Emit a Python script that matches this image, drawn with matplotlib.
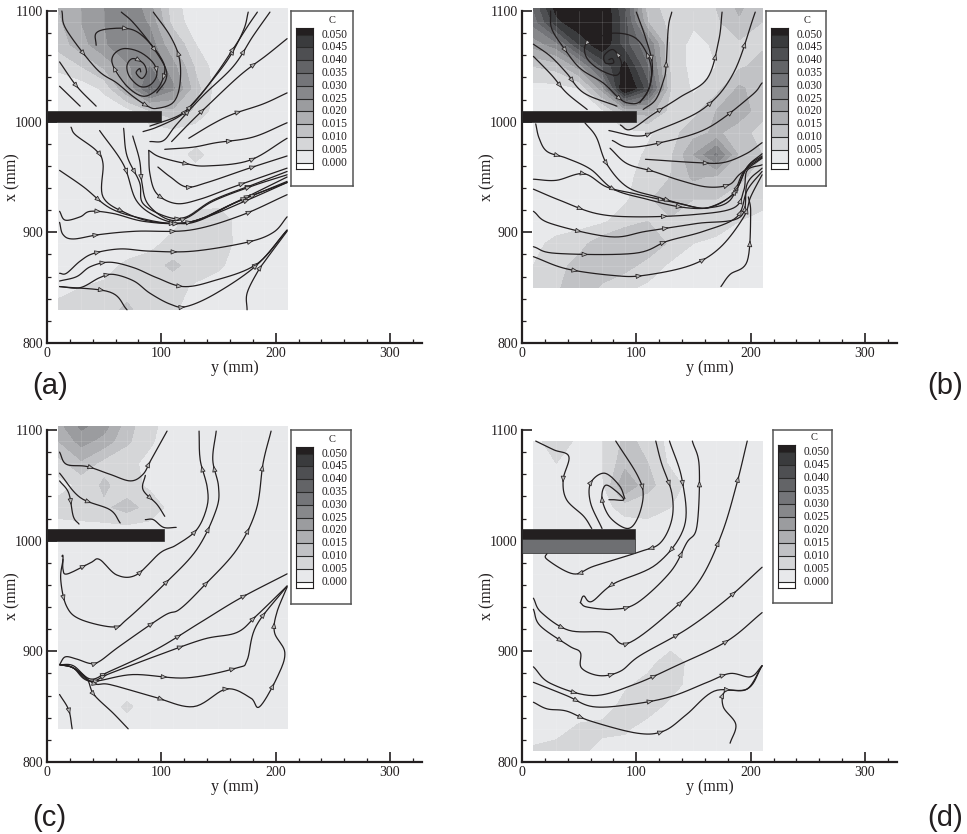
import numpy as np
import matplotlib
matplotlib.use("Agg")
import matplotlib.pyplot as plt
from matplotlib.patches import Rectangle

W, H = 967, 834
plt.rcParams['font.family'] = ['Liberation Serif', 'DejaVu Serif']

# ---------- data ----------
y_cols = [10, 30, 50, 70, 90, 110, 130, 150, 170, 190, 210]
levels = [0, .005, .01, .015, .02, .025, .03, .035, .04, .045, .05]
level_labels = ['0.000', '0.005', '0.010', '0.015', '0.020', '0.025', '0.030', '0.035', '0.040', '0.045', '0.050']
band_colors = ['#e8e9eb', '#d5d6d8', '#c1c2c5', '#aeafb2', '#9b9c9f', '#87888b',
               '#747579', '#636467', '#4e4f52', '#3a3b3d', '#231f20']

x_rows_a = [1102, 1090, 1070, 1050, 1030, 1010, 990, 970, 950, 930, 910, 890, 870, 850, 830]
conc_a = [
    [15, 20, 25, 30, 22, 7, 2, 2, 2, 2, 2],
    [14, 20, 25, 30, 24, 8, 2, 2, 2, 2, 2],
    [12, 18, 24, 30, 28, 15, 5, 2, 2, 2, 2],
    [6, 10, 16, 24, 30, 22, 9, 2, 2, 2, 2],
    [2, 2, 6, 20, 36, 26, 12, 2, 2, 2, 2],
    [2, 2, 2, 3, 10, 14, 9, 2, 2, 2, 2],
    [2, 2, 2, 2, 2, 3, 2, 2, 2, 2, 2],
    [2, 2, 2, 2, 2, 2, 6.5, 2, 2, 2, 2],
    [2, 2, 2, 2, 2, 2, 2, 2, 2, 2, 2],
    [2, 2, 2, 2, 2, 2, 2, 2, 2, 2, 2],
    [2, 2, 2, 2, 2, 3, 8, 9, 2, 2, 2],
    [2, 2, 2, 2, 3, 7, 8, 8, 3, 2, 2],
    [2, 2, 3, 6, 8, 11, 8, 6, 2, 2, 2],
    [4, 5, 6, 8, 10, 7, 4, 2, 2, 2, 2],
    [6, 6, 8, 11, 7, 6, 2, 2, 2, 2, 2],
]
x_rows_b = [1102, 1090, 1070, 1050, 1030, 1010, 990, 970, 950, 930, 910, 890, 870, 850]
conc_b = [
    [35, 52, 56, 56, 40, 12, 8, 7, 10, 16, 10],
    [32, 48, 55, 56, 42, 15, 8, 6, 9, 14, 10],
    [22, 28, 45, 55, 42, 30, 9, 3, 6, 9, 9],
    [10, 12, 22, 40, 52, 35, 9, 3, 5, 9, 12],
    [3, 3, 5, 22, 58, 42, 10, 4, 8, 16, 12],
    [3, 3, 3, 4, 16, 18, 8, 8, 15, 18, 12],
    [2, 2, 2, 3, 3, 4, 8, 13, 16, 12, 8],
    [2, 2, 2, 2, 2, 6, 9, 20, 31, 14, 10],
    [2, 2, 2, 2, 3, 8, 10, 16, 14, 11, 8],
    [2, 2, 2, 2, 4, 9, 14, 10, 10, 8, 6],
    [3, 3, 3, 4, 8, 10, 9, 8, 7, 5, 4],
    [4, 6, 8, 13, 15, 14, 9, 5, 4, 3, 3],
    [5, 8, 12, 14, 12, 8, 4, 3, 3, 3, 3],
    [8, 9, 14, 9, 6, 4, 3, 3, 3, 3, 3],
]
x_rows_c = [1103, 1090, 1070, 1050, 1030, 1010, 990, 970, 950, 930, 910, 890, 870, 850, 830]
conc_c = [
    [18, 26, 22, 12, 6, 3, 2, 2, 2, 2, 2],
    [15, 22, 18, 11, 5.5, 3, 2, 2, 2, 2, 2],
    [8, 14, 8, 6, 4, 2, 2, 2, 2, 2, 2],
    [3, 6, 11, 7, 4, 2, 2, 2, 2, 2, 2],
    [7, 8, 9, 12, 8, 3, 2, 2, 2, 2, 2],
    [3, 3, 3, 3, 3, 2, 2, 2, 2, 2, 2],
    [2, 2, 2, 2, 2, 2, 2, 2, 2, 2, 2],
    [2, 2, 2, 2, 2, 2, 2, 2, 2, 2, 2],
    [2, 2, 2, 2, 2, 2, 2, 2, 2, 2, 2],
    [2, 2, 2, 2, 2, 2, 2, 2, 2, 2, 2],
    [2, 2, 2, 2, 2, 2, 2, 2, 2, 2, 2],
    [2, 2, 2, 2, 2, 2, 2, 2, 2, 2, 2],
    [2, 2, 2, 2, 2, 2, 2, 2, 2, 2, 2],
    [2, 2, 2, 6, 2, 2, 2, 2, 2, 2, 2],
    [2, 2, 2, 2, 2, 2, 2, 2, 2, 2, 2],
]
x_rows_d = [1090, 1070, 1050, 1030, 1010, 990, 970, 950, 930, 910, 890, 870, 850, 830, 810]
conc_d = [
    [2, 10, 3, 5, 11, 9, 3, 2, 2, 2, 2],
    [2, 5, 2, 5, 13, 10, 4, 2, 2, 2, 2],
    [2, 2, 2, 4, 20, 11, 8, 2, 2, 2, 2],
    [2, 2, 2, 3, 7, 8, 5, 2, 2, 2, 2],
    [2, 2, 2, 2, 2, 2, 2, 2, 2, 2, 2],
    [2, 2, 2, 2, 2, 2, 2, 2, 2, 2, 2],
    [2, 2, 2, 2, 2, 2, 2, 2, 2, 2, 2],
    [2, 2, 2, 2, 2, 2, 2, 2, 2, 2, 2],
    [2, 2, 2, 2, 2, 2, 2, 2, 2, 2, 2],
    [2, 2, 2, 2, 2, 2, 2, 2, 2, 2, 2],
    [2, 2, 2, 2, 2, 3, 8, 3, 2, 2, 2],
    [2, 2, 2, 2, 4, 7, 8, 2, 2, 2, 2],
    [2, 2, 2, 2, 7, 8, 3, 2, 2, 2, 2],
    [2, 3, 6, 7, 6, 2, 2, 2, 2, 2, 2],
    [6, 7, 7, 2, 2, 2, 2, 2, 2, 2, 2],
]

streams_a = [
    [(13,1100),(17,1083),(43,1048),(61,1035),(75,1023),(88,1014),(96,1012),(110,1017),(116,1032),(116,1056),(108,1077),(93,1099)],
    [(43,1069),(43,1080),(55,1084),(75,1083),(90,1071),(102,1053),(102,1041),(96,1029),(84,1023),(70,1032),(58,1050),(58,1060),(67,1066),(81,1063),(93,1053),(96,1042),(90,1033),(81,1032),(72,1041),(70,1051),(75,1057),(84,1053),(87,1045),(83,1039),(78,1044),(81,1048),(82,1045)],
    [(65,1099),(75,1090),(90,1071),(103,1050),(104,1038),(96,1026)],
    [(11,1054),(26,1032),(43,1014)],
    [(11,1032),(29,1014)],
    [(84,991),(96,995),(116,1005),(128,1017),(145,1038),(160,1059),(172,1083),(176,1099)],
    [(90,996),(116,1006),(131,1020),(148,1043),(163,1066),(176,1087),(184,1099)],
    [(90,982),(102,983),(113,997),(136,1023),(163,1050),(180,1077),(195,1099)],
    [(109,982),(125,999),(140,1014),(169,1042),(192,1060),(210,1075)],
    [(124,985),(145,998),(163,1007),(189,1016),(210,1026)],
    [(103,975),(128,977),(148,981),(180,986),(210,999)],
    [(89,974),(99,968),(122,962),(140,960),(177,965),(210,985)],
    [(97,959),(108,950),(122,941),(140,945),(177,958),(210,969)],
    [(89,974),(90,953),(96,935),(113,926),(134,930),(163,941),(210,958)],
    [(67,994),(70,969),(81,945),(84,926),(105,914),(122,914),(145,929),(180,943),(210,955)],
    [(75,987),(81,965),(83,945),(88,926),(105,912),(122,913),(145,928),(180,942),(210,952)],
    [(46,992),(67,961),(78,929),(96,914),(116,908),(134,911),(163,926),(210,950)],
    [(21,995),(25,988),(43,974),(49,962),(49,932),(70,917),(96,909),(128,910),(163,926),(210,946)],
    [(11,956),(32,941),(55,922),(81,913),(110,908),(134,912),(169,929),(210,945)],
    [(11,919),(16,911),(29,914),(38,919),(58,917),(84,910),(116,908),(140,914),(175,929),(210,945)],
    [(11,909),(14,898),(23,894),(46,898),(78,901),(125,902),(169,915),(210,934)],
    [(11,863),(17,863),(29,874),(41,881),(64,885),(90,883),(128,883),(175,891),(198,900),(210,914)],
    [(11,856),(26,860),(38,869),(55,873),(76,868),(96,859),(119,851),(145,856),(183,871),(210,902)],
    [(11,851),(29,850),(46,859),(58,862),(76,856),(90,845),(108,835),(122,833),(148,845),(183,870),(210,902)],
    [(11,851),(55,846),(70,830)],
    [(175,830),(175,845),(184,864),(192,876),(210,901)],
]
streams_b = [
    [(25,1100),(26,1084),(37,1066),(51,1048),(71,1035),(83,1023),(92,1017),(103,1018),(112,1033),(112,1054),(100,1075),(80,1080),(62,1074),(55,1068),(57,1057),(68,1047),(83,1042),(87,1053),(80,1065),(72,1060),(73,1053),(80,1053),(79,1057),(76,1056)],
    [(100,1099),(108,1076),(114,1052),(111,1030),(103,1017)],
    [(10,1070),(25,1059),(39,1044),(54,1026),(83,1014)],
    [(10,1059),(26,1042),(39,1026),(57,1011)],
    [(106,1011),(117,1020),(124,1038),(126,1050),(128,1085),(131,1099)],
    [(86,997),(95,993),(115,1007),(138,1022),(162,1039),(172,1073),(175,1099)],
    [(76,992),(101,987),(118,992),(159,1012),(185,1044),(204,1099)],
    [(79,983),(93,977),(121,981),(162,994),(200,1023),(210,1035)],
    [(108,966),(153,963),(176,963),(196,971),(210,981)],
    [(77,976),(92,962),(115,955),(138,947),(162,941),(181,943),(191,953),(210,967)],
    [(12,998),(15,985),(22,973),(39,967),(60,957),(80,939),(109,930),(138,923),(162,922),(182,929),(194,955),(210,968)],
    [(55,999),(65,986),(74,962),(92,941),(118,932),(150,923),(165,923),(185,935),(197,959),(210,971)],
    [(10,948),(30,947),(54,953),(74,941),(98,935),(138,926),(162,922),(185,935),(197,959),(210,969)],
    [(10,939),(33,929),(65,917),(100,914),(150,916),(185,922),(194,938),(197,956),(210,961)],
    [(10,919),(25,908),(77,896),(109,901),(153,908),(191,914),(197,944),(210,958)],
    [(10,887),(30,881),(98,881),(127,892),(159,901),(188,914),(197,938),(210,955)],
    [(10,878),(39,867),(80,861),(106,861),(147,870),(173,886),(194,914),(200,932),(210,952)],
    [(174,851),(182,862),(197,874),(200,917),(198,932)],
]
streams_c = [
    [(11,1080),(17,1069),(35,1067),(55,1060),(73,1054),(84,1060),(91,1073),(105,1099)],
    [(11,1061),(29,1039),(55,1028),(64,1016)],
    [(11,1054),(19,1043),(23,1022),(28,1015)],
    [(86,1059),(84,1046),(96,1033),(103,1022)],
    [(86,1019),(93,1019),(102,1012),(113,1012)],
    [(13,986),(14,986),(14,974),(18,970),(38,980),(46,983),(61,969),(78,969),(99,989),(113,996),(131,1010),(140,1031),(140,1049),(134,1073),(133,1099)],
    [(14,983),(12,965),(17,941),(29,929),(58,922),(70,929),(102,960),(131,992),(148,1028),(150,1049),(145,1073),(148,1099)],
    [(11,888),(16,895),(26,893),(38,889),(46,891),(64,905),(102,932),(116,938),(137,959),(166,992),(183,1028),(189,1070),(196,1099)],
    [(11,888),(23,887),(38,875),(55,882),(96,902),(134,926),(169,948),(210,970)],
    [(11,888),(23,885),(38,873),(55,880),(96,896),(137,911),(166,917),(183,932),(210,959)],
    [(11,888),(23,885),(38,873),(75,879),(122,876),(166,885),(175,892),(183,923),(210,959)],
    [(11,888),(23,885),(41,871),(55,870),(93,859),(128,850),(157,866),(178,858),(186,850),(202,878),(208,899),(199,917),(201,935),(210,958)],
    [(11,888),(23,885),(35,875),(41,861),(58,844),(71,830)],
    [(11,861),(19,847),(22,830)],
]
streams_d = [
    [(12,1090),(28,1082),(41,1076),(36,1055),(39,1037),(54,1022),(61,1011)],
    [(82,1090),(101,1059),(106,1041),(101,1020),(92,1011),(77,1021),(70,1038),(73,1050),(82,1045),(89,1037),(80,1037),(76,1037)],
    [(70,1011),(60,1034),(60,1052),(72,1061),(85,1050),(90,1038)],
    [(117,1090),(122,1070),(131,1043),(131,1019),(121,998),(103,990),(63,977),(45,970),(22,983),(22,989)],
    [(129,1090),(140,1055),(142,1013),(118,979),(80,961),(61,945),(54,950),(51,944)],
    [(51,944),(57,940),(80,938),(101,944),(130,972),(144,998),(153,1013),(155,1067),(149,1090)],
    [(10,948),(17,935),(41,919),(74,917),(92,907),(130,936),(156,965),(175,1007),(188,1052),(197,1090)],
    [(10,938),(16,923),(41,905),(51,899),(52,885),(68,878),(86,882),(103,896),(144,920),(179,947),(210,976)],
    [(10,886),(25,871),(62,860),(98,870),(135,887),(179,909),(210,935)],
    [(10,872),(39,860),(62,850),(95,852),(130,859),(162,872),(182,880),(200,877),(210,887)],
    [(10,854),(22,848),(39,846),(60,837),(101,826),(124,828),(144,843),(168,864),(197,866),(210,887)],
    [(182,817),(187,834),(176,850),(178,864),(197,866),(210,887)],
]
plates_a = [(0, 100, 999.5, 1010, '#231f20')]
plates_b = [(0, 100, 999.5, 1010, '#231f20')]
plates_c = [(0, 102, 999.5, 1010.5, '#231f20')]
plates_d = [(0, 99, 1001.5, 1010.5, '#231f20'), (0, 99, 989, 1001.5, '#6e6f72')]

panel_letters = ['(a)', '(b)', '(c)', '(d)']
x_ticks = [0, 100, 200, 300]
x_tick_labels = ['0', '100', '200', '300']
v_ticks = [800, 900, 1000, 1100]
v_tick_labels = ['800', '900', '1000', '1100']

# ---------- layout in pixels of the reference ----------
INK = '#231f20'


def smooth(points, n=10):
    p = np.array(points, float)
    q = np.vstack([2 * p[0] - p[1], p, 2 * p[-1] - p[-2]])
    out = []
    for i in range(1, len(q) - 2):
        for t in np.linspace(0, 1, n, endpoint=False):
            out.append(0.5 * ((2 * q[i]) + (-q[i - 1] + q[i + 1]) * t
                              + (2 * q[i - 1] - 5 * q[i] + 4 * q[i + 1] - q[i + 2]) * t ** 2
                              + (-q[i - 1] + 3 * q[i] - 3 * q[i + 1] + q[i + 2]) * t ** 3))
    out.append(p[-1])
    return np.array(out)


def draw_stream(ax, points):
    c = smooth(points)
    ax.plot(c[:, 0], c[:, 1], color=INK, lw=0.9, zorder=4, solid_capstyle='round', clip_on=False)
    seg = np.hypot(*np.diff(c, axis=0).T)
    s = np.concatenate([[0], np.cumsum(seg)])
    if s[-1] < 30:
        return
    count = max(1, int(s[-1] / 60))
    for k in range(count):
        target = s[-1] * (k + 0.6) / (count + 0.2)
        i = min(np.searchsorted(s, target), len(c) - 2)
        d = c[i + 1] - c[i]
        d = d / (np.hypot(*d) + 1e-9)
        ax.annotate('', xy=c[i] + d * 2.5, xytext=c[i] - d * 0.5,
                    arrowprops=dict(arrowstyle='-|>,head_length=0.55,head_width=0.22', mutation_scale=7,
                                    fc='#b5b5b5', ec=INK, lw=0.55, shrinkA=0, shrinkB=0), zorder=5)


def axes_px(fig, l, t, r, b):
    return fig.add_axes([l / W, 1 - b / H, (r - l) / W, (b - t) / H])


def panel(fig, left, top, rows, conc, streams, plates, legend_box, swatch_px):
    bottom = top + 332
    ax = axes_px(fig, left, top, left + 375, bottom)
    ax.set_xlim(0, 328)
    ax.set_ylim(800, 1100)
    for s in ('top', 'right'):
        ax.spines[s].set_visible(False)
    for s in ('left', 'bottom'):
        ax.spines[s].set_linewidth(1.6)
        ax.spines[s].set_color(INK)
    Z = np.array(conc) / 1000.0
    cs = ax.contourf(y_cols, rows, Z, levels=levels + [1], colors=band_colors, zorder=1)
    cs.set_clip_on(False)
    xs = np.array(y_cols)
    for r in rows[1:-1]:
        ax.plot([xs[0], xs[-1]], [r, r], color='white', lw=0.4, alpha=0.22, zorder=2)
    for yv in xs[1:-1]:
        ax.plot([yv, yv], [min(rows), min(max(rows), 1100)], color='white', lw=0.4, alpha=0.22, zorder=2)
    for p in streams:
        draw_stream(ax, p)
    for (a, b, lo, hi, col) in plates:
        ax.add_patch(Rectangle((a, lo), b - a, hi - lo, fc=col, ec='#2b2b2b', lw=0.5, zorder=6, clip_on=False))
    ax.set_xticks(x_ticks, x_tick_labels)
    ax.set_yticks(v_ticks, v_tick_labels)
    ax.set_xticks(np.arange(0, 328, 20), minor=True)
    ax.set_yticks(np.arange(800, 1101, 20), minor=True)
    ax.tick_params(which='major', direction='in', length=7.5, width=1.2, labelsize=10, color=INK,
                   labelcolor=INK, pad=3)
    ax.tick_params(which='minor', direction='in', length=3, width=0.9, color=INK)
    ax.set_xlabel('y (mm)', fontsize=11.5, labelpad=0, color=INK)
    ax.set_ylabel('x (mm)', fontsize=11.5, color=INK)
    ax.yaxis.set_label_coords(-27 / 375, 0.5)
    # legend
    l, t, r, b = legend_box
    box = axes_px(fig, l, t, r, b)
    box.set_xticks([])
    box.set_yticks([])
    for s in box.spines.values():
        s.set_linewidth(1.1)
        s.set_color('#555555')
    sl, st, sr, sb = swatch_px
    sw = axes_px(fig, sl, st, sr, sb)
    sw.set_xlim(0, 1)
    sw.set_ylim(-0.0025, 0.0526)
    sw.set_xticks([])
    sw.set_yticks([])
    for s in sw.spines.values():
        s.set_linewidth(0.8)
        s.set_color(INK)
    edges = levels + [0.0526]
    for i, col in enumerate(band_colors):
        sw.bar(0.5, edges[i + 1] - edges[i], bottom=edges[i], width=1, color=col, edgecolor='none')
        sw.axhline(edges[i], color='#2a2a2a', lw=0.8)
    for lab, lev in zip(level_labels, levels):
        sw.text(1.48, lev, lab, fontsize=8.3, va='center', ha='left', color=INK, clip_on=False)
    sw.text(2.1, 0.0555, 'C', fontsize=7.5, va='center', ha='center', color=INK, clip_on=False)
    return ax


fig = plt.figure(figsize=(W / 100, H / 100), dpi=100, facecolor='white')
panel(fig, 47, 11, x_rows_a, conc_a, streams_a, plates_a, (291, 11, 353, 186), (296, 28, 313, 169))
panel(fig, 522, 11, x_rows_b, conc_b, streams_b, plates_b, (766, 11, 826, 186), (771, 28, 788, 169))
panel(fig, 47, 430, x_rows_c, conc_c, streams_c, plates_c, (291, 430, 351, 604), (296, 447, 313, 588))
panel(fig, 522, 430, x_rows_d, conc_d, streams_d, plates_d, (773, 430, 832, 603), (778, 445, 795, 588))

letter_pos = [(32, 386), (927, 386), (32, 818), (927, 818)]
for lab, (px, py) in zip(panel_letters, letter_pos):
    fig.text(px / W, 1 - py / H, lab, family='Liberation Sans', fontsize=21, va='center', ha='left', color=INK)

fig.savefig('out.png', dpi=100, facecolor='white')
